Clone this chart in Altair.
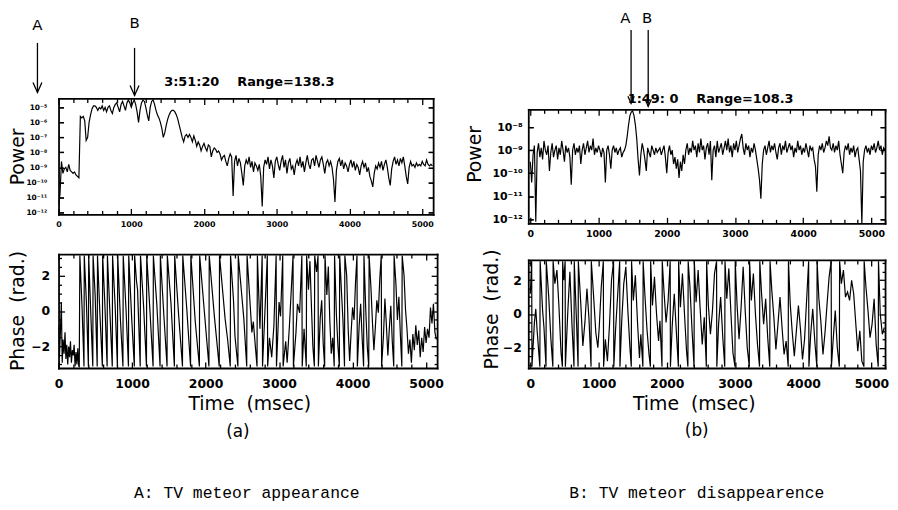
import altair as alt
import pandas as pd

# ---------------- values ----------------
STEP_MS = 20  # sampling step of the power traces (ms)

# (a) 3:51:20, log10(power), t = 0, 20, 40 ... ms
power_a_log10 = [
    -11.5, -10.8, -8.6, -9.4, -9.1, -9.0, -9.3, -8.8, -9.2, -9.3,
    -9.4, -9.3, -9.5, -9.6, -9.7, -5.6, -5.7, -5.6, -5.9, -7.2,
    -7.0, -6.0, -5.5, -5.1, -4.9, -4.9, -5.0, -5.2, -5.0, -5.1,
    -4.9, -5.2, -5.0, -5.3, -5.0, -4.9, -5.2, -5.4, -5.0, -4.8,
    -4.7, -5.0, -5.3, -4.8, -4.6, -4.9, -5.2, -4.7, -4.5, -4.7,
    -5.0, -4.7, -4.5, -4.8, -5.3, -6.0, -5.2, -4.7, -4.5, -4.6,
    -5.0, -5.5, -5.9, -5.0, -4.6, -4.5, -4.8, -5.2, -5.5, -5.7,
    -6.0, -6.4, -7.0, -6.7, -6.2, -5.8, -5.5, -5.3, -5.2, -5.2,
    -5.3, -5.5, -5.8, -6.2, -6.6, -7.0, -7.3, -6.9, -6.8, -7.0,
    -6.8, -7.0, -7.3, -6.9, -7.2, -7.6, -7.3, -7.5, -7.9, -7.6,
    -7.4, -7.7, -7.9, -7.5, -7.6, -8.3, -7.9, -7.7, -7.8, -8.0,
    -7.9, -8.1, -8.5, -8.3, -8.2, -8.6, -8.9, -8.4, -8.1, -8.3,
    -10.9, -8.6, -8.2, -8.9, -8.4, -8.7, -9.4, -10.2, -8.9, -8.5,
    -8.8, -8.3, -9.0, -8.6, -9.3, -8.7, -8.9, -9.2, -8.8, -9.6,
    -11.6, -9.0, -8.5, -8.8, -8.3, -9.1, -8.5, -8.9, -9.7, -8.6,
    -8.3, -8.8, -9.2, -8.6, -8.2, -9.0, -8.5, -9.4, -8.7, -8.4,
    -9.1, -8.9, -9.5, -8.8, -8.5, -8.9, -8.3, -9.0, -8.6, -9.3,
    -8.7, -8.2, -8.8, -9.1, -8.5, -8.4, -8.9, -8.2, -8.6, -9.0,
    -8.5, -8.3, -8.8, -9.4, -8.7, -8.5, -8.9, -8.6, -9.0, -9.8,
    -11.3, -9.2, -8.6, -8.4, -8.9, -8.5, -9.1, -8.7, -8.9, -9.3,
    -8.8, -8.5, -9.0, -8.6, -9.2, -8.8, -9.0, -9.5, -8.9, -8.6,
    -9.0, -8.7, -9.3, -9.0, -9.6, -9.9, -10.3, -9.4, -8.9, -9.1,
    -8.7, -9.0, -8.6, -9.2, -8.8, -8.5, -9.0, -9.7, -10.2, -9.1,
    -8.6, -8.3, -8.8, -8.5, -8.9, -8.4, -8.7, -8.3, -8.9, -9.6,
    -10.1, -9.0, -8.6, -8.9, -8.8, -9.0, -8.7, -8.9, -8.8, -8.9,
    -8.6, -8.8, -8.9, -8.5, -8.8, -8.9, -8.8, -8.9,
]

# (b) 1:49:0, log10(power), t = 0, 20, 40 ... ms
power_b_log10 = [
    -9.5, -10.4, -9.2, -8.8, -12.1, -9.1, -8.7, -9.3, -8.9, -9.4,
    -8.6, -9.0, -9.2, -8.8, -9.9, -9.1, -8.7, -9.3, -9.0, -8.8,
    -9.4, -8.9, -9.2, -8.6, -9.0, -9.5, -8.8, -9.1, -8.9, -9.3,
    -10.5, -9.0, -8.7, -9.2, -8.9, -9.1, -8.8, -9.6, -9.0, -8.7,
    -9.2, -8.9, -8.6, -9.1, -8.8, -9.0, -8.5, -9.2, -8.9, -9.1,
    -8.8, -9.0, -9.3, -8.9, -9.1, -10.4, -9.0, -8.8, -9.2, -9.8,
    -9.0, -8.8, -9.1, -8.9, -9.2, -9.0, -8.9, -9.3, -9.1, -9.0,
    -8.8, -8.4, -7.9, -7.5, -7.35, -7.3, -7.5, -7.9, -8.5, -9.4,
    -10.1, -9.2, -8.7, -9.0, -9.4, -9.9, -8.9, -9.1, -9.3, -8.8,
    -9.0, -9.2, -8.9, -9.1, -9.0, -8.9, -9.2, -9.0, -8.8, -9.3,
    -10.0, -9.1, -8.8, -9.2, -9.0, -9.6, -9.3, -9.8, -9.4, -10.2,
    -9.5, -9.9, -9.2, -9.6, -9.0, -8.7, -9.2, -8.9, -9.1, -8.6,
    -9.0, -8.8, -9.3, -8.7, -9.1, -8.5, -9.0, -8.8, -9.4, -8.9,
    -8.7, -9.2, -8.6, -10.3, -9.0, -8.8, -9.3, -8.6, -9.1, -8.9,
    -8.7, -9.2, -8.9, -8.6, -9.0, -8.5, -9.1, -8.8, -9.3, -8.7,
    -9.0, -8.6, -9.1, -8.8, -8.5, -8.3, -8.9, -9.2, -8.7, -9.0,
    -8.8, -9.3, -8.9, -9.1, -8.7, -9.0, -9.4, -9.8, -10.3, -11.1,
    -9.6, -9.0, -8.8, -9.2, -8.9, -8.6, -9.1, -8.8, -9.0, -8.7,
    -9.1, -9.4, -8.9, -8.7, -9.2, -8.8, -9.0, -8.6, -9.1, -8.9,
    -8.7, -9.0, -8.8, -9.3, -8.9, -9.1, -8.6, -9.0, -8.8, -9.2,
    -8.9, -9.1, -8.7, -9.0, -9.3, -8.8, -9.0, -8.9, -9.4, -9.7,
    -10.8, -9.2, -8.8, -9.0, -8.7, -9.1, -8.9, -8.6, -8.8, -8.4,
    -8.9, -9.0, -8.7, -9.1, -8.8, -9.0, -8.6, -9.2, -9.6, -10.0,
    -9.1, -8.8, -9.0, -8.7, -9.2, -8.9, -9.1, -8.8, -9.3, -9.0,
    -8.9, -9.4, -9.9, -12.2, -9.5, -9.0, -8.8, -9.1, -8.9, -9.2,
    -8.8, -9.0, -8.7, -9.1, -8.9, -8.6, -9.0, -8.8, -9.2, -8.9,
    -9.0,
]

# (a) phase (rad.) vertices: (time ms, phase)
phase_a_points = [
    (0, -0.8), (12, -2.6), (25, -1.2), (38, 0.5), (50, -2.9), (62, -1.6), (75, -2.4),
    (88, -1.2), (100, -2.7), (112, -1.9), (125, -3.0), (138, -2.0), (150, -2.6),
    (162, -1.7), (175, -2.9), (188, -2.2), (200, -2.5), (212, -1.9), (225, -3.1),
    (238, -2.3), (250, -3.0), (262, -2.1), (275, -3.1),
    (282, -3.12), (290, 3.12), (320, 0.2), (346, -3.12), (350, 3.12), (378, 0.6),
    (406, -3.12), (410, 3.12), (440, -0.3), (466, -3.12), (470, 3.12), (498, 0.9),
    (526, -3.12), (530, 3.12), (562, -0.1), (596, -3.12), (600, 3.12), (630, 0.4),
    (661, -3.12), (665, 3.12), (700, -0.2), (731, -3.12), (735, 3.12), (770, 0.3),
    (801, -3.12), (805, 3.12), (842, -0.5), (876, -3.12), (880, 3.12), (918, 0.1),
    (951, -3.12), (955, 3.12), (995, -0.4), (1031, -3.12), (1035, 3.12), (1060, 1.7),
    (1075, 1.2), (1111, -3.12), (1115, 3.12), (1158, 0.2), (1196, -3.12), (1200, 3.12),
    (1245, -0.1), (1286, -3.12), (1290, 3.12), (1338, 0.3), (1381, -3.12), (1385, 3.12),
    (1432, -0.2), (1476, -3.12), (1480, 3.12), (1530, 0.4), (1576, -3.12), (1580, 3.12),
    (1635, -0.3), (1686, -3.12), (1690, 3.12), (1745, 0.1), (1796, -3.12), (1800, 3.12),
    (1860, -0.6), (1916, -3.12), (1920, 3.12), (1985, -0.1), (2046, -3.12), (2050, 3.12),
    (2120, -0.3), (2186, -3.12), (2190, 3.12), (2265, -0.4), (2300, -1.6), (2336, -3.12),
    (2340, 3.12), (2380, 0.6), (2400, -1.4), (2440, -3.12), (2445, 3.12), (2520, -0.4),
    (2560, -3.12), (2565, 3.12), (2600, 0.8), (2630, -1.2), (2650, -0.6), (2700, -3.12),
    (2705, 3.12), (2740, -1.0), (2770, 3.12), (2775, -3.12), (2810, 0.2), (2840, 3.12),
    (2845, -3.12), (2870, -1.5), (2900, -2.6), (2930, -0.8), (2960, 3.12), (2965, -3.12),
    (3000, 0.5), (3020, -0.3), (3050, 3.12), (3055, -3.12), (3090, -1.7), (3110, -2.9),
    (3140, -0.9), (3170, 1.5), (3190, 3.12), (3195, -3.12), (3230, -1.2), (3250, 0.4),
    (3280, -0.1), (3310, 3.12), (3315, -3.12), (3340, -1.0), (3370, -3.12), (3375, 3.12),
    (3400, 1.2), (3420, 2.8), (3440, 0.3), (3460, -2.0), (3480, -3.12), (3485, 3.12),
    (3510, 2.2), (3530, 3.12), (3535, -3.12), (3560, -0.4), (3580, 0.6), (3600, -1.8),
    (3620, -3.12), (3625, 3.12), (3650, 0.9), (3670, 2.5), (3690, -0.5), (3710, -2.4),
    (3730, -1.5), (3750, -3.12), (3755, 3.12), (3780, -0.2), (3800, -1.9), (3820, -3.12),
    (3825, 3.12), (3850, 1.0), (3870, -0.6), (3890, -3.12), (3895, 3.12), (3920, 2.0),
    (3940, -1.0), (3960, -2.8), (3980, -1.2), (4000, 0.2), (4020, -0.5), (4040, 1.6),
    (4060, 3.12), (4065, -3.12), (4090, -0.8), (4110, 0.4), (4130, -1.5), (4150, -3.12),
    (4155, 3.12), (4180, 0.0), (4200, -2.0), (4220, -3.12), (4225, 3.12), (4250, 1.3),
    (4270, -0.6), (4290, -2.2), (4310, -0.9), (4330, 0.6), (4350, -0.1), (4370, 1.8),
    (4390, 3.12), (4395, -3.12), (4420, -1.4), (4440, 0.7), (4460, -0.8), (4480, -2.5),
    (4500, -1.0), (4520, 0.3), (4540, -1.7), (4560, -3.12), (4565, 3.12), (4590, 1.5),
    (4610, -0.5), (4630, 0.8), (4650, -1.3), (4670, -3.12), (4675, 3.12), (4700, 2.0),
    (4720, 0.1), (4740, -1.0), (4760, -2.4), (4780, -1.6), (4800, -2.9), (4820, -1.3),
    (4840, -2.2), (4860, -0.8), (4880, -1.9), (4900, -1.1), (4920, -2.6), (4940, -1.5),
    (4960, -2.3), (4980, -0.9), (5000, -1.8), (5020, -1.0), (5040, -1.5), (5060, 0.2),
    (5080, -0.7), (5100, 0.4), (5120, -1.2), (5140, -1.6),
]

# (b) phase (rad.) vertices: (time ms, phase)
phase_b_points = [
    (0, 1.2), (20, 3.12), (24, -3.12), (60, -0.5), (80, 0.3), (100, -1.0), (140, -3.12),
    (144, 3.12), (180, 0.2), (200, -0.8), (230, -3.12), (234, 3.12), (270, 1.0),
    (300, -1.4), (330, -3.12), (334, 3.12), (360, 1.8), (390, 2.6), (420, 0.4),
    (450, -2.3), (470, -3.12), (474, 3.12), (490, 2.0), (510, 3.12), (514, -3.12),
    (550, 0.2), (580, 2.5), (610, -0.6), (640, -3.12), (644, 3.12), (680, -0.8),
    (700, -3.12), (704, 3.12), (740, 0.6), (770, -1.9), (800, -0.5), (830, 1.5),
    (860, -0.3), (890, -3.12), (894, 3.12), (930, 0.9), (960, -1.1), (990, -2.0),
    (1010, -0.8), (1040, 1.6), (1070, 3.12), (1074, -3.12), (1100, -1.5), (1130, -2.8),
    (1160, -0.7), (1190, 2.0), (1220, 3.12), (1224, -3.12), (1250, -0.9), (1280, 1.1),
    (1310, 3.12), (1314, -3.12), (1340, -0.4), (1370, 1.8), (1400, 2.8), (1430, 0.2),
    (1460, -2.0), (1480, -3.12), (1484, 3.12), (1510, 0.8), (1540, 2.3), (1570, -0.4),
    (1600, -2.6), (1620, -1.2), (1650, -3.12), (1654, 3.12), (1680, 1.1), (1710, -0.9),
    (1740, -2.4), (1760, -3.12), (1764, 3.12), (1790, 0.5), (1820, 2.2), (1850, 0.0),
    (1880, -1.6), (1900, -0.4), (1930, -3.12), (1934, 3.12), (1960, 1.3), (1990, -0.5),
    (2020, 0.8), (2050, 3.12), (2054, -3.12), (2080, -0.7), (2110, 1.2), (2140, -1.0),
    (2170, -3.12), (2174, 3.12), (2200, 0.4), (2230, 2.4), (2260, 0.0), (2290, -2.2),
    (2310, -3.12), (2314, 3.12), (2340, 1.6), (2370, -0.9), (2400, -3.12), (2404, 3.12),
    (2430, 0.7), (2460, 2.6), (2490, 0.3), (2520, -1.8), (2550, -0.2), (2580, -3.12),
    (2584, 3.12), (2610, 0.5), (2640, -1.2), (2670, 0.2), (2700, 2.4), (2730, 3.12),
    (2734, -3.12), (2760, -0.6), (2790, 1.0), (2820, -1.3), (2850, -3.12), (2854, 3.12),
    (2880, 0.9), (2910, 2.7), (2940, 0.1), (2970, -2.3), (3000, -3.12), (3004, 3.12),
    (3030, 0.6), (3060, -1.5), (3090, 0.4), (3120, 2.8), (3150, 0.2), (3180, -2.0),
    (3210, -3.12), (3214, 3.12), (3240, 0.8), (3270, 2.4), (3300, 0.0), (3330, -1.8),
    (3360, -3.12), (3364, 3.12), (3390, 1.2), (3420, -0.6), (3450, 0.9), (3480, -1.4),
    (3510, -3.12), (3514, 3.12), (3540, 1.4), (3570, -0.2), (3600, -2.1), (3630, -0.6),
    (3660, 1.0), (3690, -0.8), (3720, -2.4), (3750, -1.6), (3780, -3.12), (3784, 3.12),
    (3810, 0.6), (3840, -1.1), (3870, -2.5), (3900, -1.0), (3930, 0.5), (3960, -0.9),
    (3990, -2.7), (4020, -1.5), (4050, 0.8), (4080, 3.12), (4084, -3.12), (4110, -1.2),
    (4140, 0.3), (4170, -1.6), (4200, -3.12), (4204, 3.12), (4230, 0.9), (4260, -0.5),
    (4290, -2.4), (4320, -1.1), (4350, 0.6), (4380, 2.2), (4410, 3.12), (4414, -3.12),
    (4440, -1.5), (4470, 0.2), (4500, -2.0), (4530, -3.12), (4534, 3.12), (4560, 1.8),
    (4590, 2.6), (4620, 1.0), (4650, 1.3), (4680, 0.8), (4710, 2.0), (4740, 1.2),
    (4770, -0.5), (4800, -2.2), (4830, -1.0), (4860, -2.8), (4890, -3.12), (4894, 3.12),
    (4920, 1.6), (4950, 0.2), (4980, -1.4), (5010, -0.6), (5040, 0.9), (5070, -1.8),
    (5100, -3.12), (5104, 3.12), (5130, 0.0), (5160, -1.2), (5190, -0.8),
]

# axis tick values
time_labels = [0, 1000, 2000, 3000, 4000, 5000]
time_minor_a = [t for t in range(0, 5151, 200) if t % 1000]
time_minor_b = [t for t in range(0, 5201, 200) if t % 1000]
power_a_decades = [-12, -11, -10, -9, -8, -7, -6, -5]
power_b_decades = [-12, -11, -10, -9, -8]
phase_labels = [-2, 0, 2]
phase_minor = [-3, -2.5, -1.5, -1, -0.5, 0.5, 1, 1.5, 2.5, 3]

# annotation texts and their anchors in data units
title_a = "3:51:20\u00a0\u00a0\u00a0\u00a0Range=138.3"
title_b = "1:49:\u00a00\u00a0\u00a0\u00a0\u00a0Range=108.3"
arrows_a = {"t": [-290, 1045], "top": [-0.70, -1.03], "tip": [-4.0, -4.2],
            "label": ["A", "B"], "label_y": [0.49, 0.65]}
arrows_b = {"t": [1477, 1728], "top": [-3.79, -3.79], "tip": [-6.97, -7.10],
            "label": ["A", "B"], "label_t": [1394, 1713], "label_y": [-2.98, -2.98]}
caption_a = "A: TV meteor appearance"
caption_b = "B: TV meteor disappearence"

# ---------------- frames ----------------
XDOM_A, XDOM_B = [0, 5150], [-30, 5200]
YDOM_PA, YDOM_PB = [-12.13, -4.4], [-12.17, -7.23]
YDOM_PH = [-3.2, 3.2]
BLACK = "black"
TICK_FONT = "DejaVu Sans"
TITLE_FONT = "DejaVu Sans"
FRAME_W = 1.8

sup = str.maketrans("0123456789-", "⁰¹²³⁴⁵⁶⁷⁸⁹⁻")


def pow_expr(vals):
    return "".join(f"datum.value == {v} ? '10{str(v).translate(sup)}' : " for v in vals) + "''"


def tick_axis(orient, off, vals, size, domain=False):
    return alt.Axis(orient=orient, offset=off, values=vals, labels=False, domain=domain,
                    domainColor=BLACK, domainWidth=FRAME_W, domainCap="square",
                    grid=False, title=None, ticks=True, tickColor=BLACK, tickWidth=1.3,
                    tickSize=size)


def panel(df, yf, xdom, ydom, w, hc, top, xlab, ylab, xmaj, xmin, ymaj, ymin,
          xsz, ysz, extra):
    """hc: cell height; the frame spans from `top` to `hc` inside the cell.
    Inward ticks: axes of the opposite orientation shifted across the frame."""
    xs = alt.Scale(domain=xdom, nice=False, zero=False)
    ys = alt.Scale(domain=ydom, nice=False, zero=False, range=[hc, top])
    line = alt.Chart(df).mark_line(color=BLACK, strokeWidth=1.2, clip=True).encode(
        x=alt.X("t:Q", scale=xs, axis=xlab),
        y=alt.Y(f"{yf}:Q", scale=ys, axis=ylab),
        order="i:Q")
    layers = [line]
    for k, (xv, yv) in enumerate([(xmaj, ymaj), (xmin, ymin)]):
        xsize, ysize = xsz[k], ysz[k]
        inner_bl = alt.Chart(df).mark_line(opacity=0).encode(
            x=alt.X("t:Q", scale=xs, axis=tick_axis("top", -hc, xv, xsize)),
            y=alt.Y(f"{yf}:Q", scale=ys, axis=tick_axis("right", -w, yv, ysize)))
        inner_tr = alt.Chart(df).mark_line(opacity=0).encode(
            x=alt.X("t:Q", scale=xs,
                    axis=tick_axis("bottom", -(hc - top), xv, xsize, domain=(k == 0))),
            y=alt.Y(f"{yf}:Q", scale=ys,
                    axis=tick_axis("left", -w, yv, ysize, domain=(k == 0))))
        layers += [inner_bl, inner_tr]
    layers += [e(xs, ys) for e in extra]
    return alt.layer(*layers).resolve_axis(x="independent", y="independent").properties(
        width=w, height=hc)


def label_axis(orient, vals, size, pad, expr=None, title=None, tx=None, ty=None):
    kw = dict(orient=orient, values=vals, labelFont=TICK_FONT, labelFontWeight="bold",
              labelFontSize=size, labelPadding=pad, labelColor=BLACK, ticks=False,
              tickSize=0, domain=True, domainColor=BLACK, domainWidth=FRAME_W,
              domainCap="square", grid=False, labelOverlap=False, labelFlush=False)
    if expr:
        kw["labelExpr"] = expr
    else:
        kw["format"] = "d"
    if title:
        kw.update(title=title, titleFont=TITLE_FONT, titleFontSize=19,
                  titleFontWeight="normal", titleColor=BLACK, titleX=tx, titleY=ty,
                  titleBaseline="middle", titleAlign="center")
        if orient == "left":
            kw["titleAngle"] = 270
    else:
        kw["title"] = None
    return alt.Axis(**kw)


def text_layer(t, y, text, size, font=TITLE_FONT, weight="normal", baseline="middle"):
    d = pd.DataFrame({"t": t, "y": y, "s": text})

    def make(xs, ys):
        return alt.Chart(d).mark_text(font=font, fontSize=size, fontWeight=weight,
                                      baseline=baseline, align="center", color=BLACK).encode(
            x=alt.X("t:Q", scale=xs, axis=None), y=alt.Y("y:Q", scale=ys, axis=None),
            text="s:N")
    return make


def arrow_layers(arr, head_size):
    d = pd.DataFrame({"t": arr["t"], "top": arr["top"], "tip": arr["tip"]})

    def shaft(xs, ys):
        return alt.Chart(d).mark_rule(color=BLACK, strokeWidth=1.3).encode(
            x=alt.X("t:Q", scale=xs, axis=None), y=alt.Y("top:Q", scale=ys, axis=None),
            y2="tip:Q")

    def head(xs, ys):
        return alt.Chart(d).mark_point(shape="M -0.45 -1 L 0 0 L 0.45 -1", filled=False,
                                       size=head_size, strokeWidth=1.3, color=BLACK,
                                       opacity=1).encode(
            x=alt.X("t:Q", scale=xs, axis=None), y=alt.Y("tip:Q", scale=ys, axis=None))
    return [shaft, head]


# data frames
pa = pd.DataFrame({"t": [i * STEP_MS for i in range(len(power_a_log10))], "p": power_a_log10})
pa["i"] = range(len(pa))
pb = pd.DataFrame({"t": [i * STEP_MS for i in range(len(power_b_log10))], "p": power_b_log10})
pb["i"] = range(len(pb))
ha = pd.DataFrame(phase_a_points, columns=["t", "ph"])
ha["i"] = range(len(ha))
hb = pd.DataFrame(phase_b_points, columns=["t", "ph"])
hb["i"] = range(len(hb))

a_power = panel(
    pa, "p", XDOM_A, YDOM_PA, 378, 117, 0,
    label_axis("bottom", time_labels, 8, 6),
    label_axis("left", power_a_decades, 7.5, 12, expr=pow_expr(power_a_decades),
               title="Power", tx=-41.5, ty=58.5),
    time_labels, time_minor_a, power_a_decades, power_a_decades, (6, 4), (5, 5),
    arrow_layers(arrows_a, 400)
    + [text_layer(arrows_a["t"], arrows_a["label_y"], arrows_a["label"], 15),
       text_layer([2623], [-3.34], [title_a], 13, weight="bold")])

a_phase = panel(
    ha, "ph", XDOM_A, YDOM_PH, 382, 115, 0,
    label_axis("bottom", time_labels, 12.5, 10, title="Time\u00a0\u00a0(msec)", tx=192.5, ty=36),
    label_axis("left", phase_labels, 12.5, 9, title="Phase\u00a0\u00a0(rad.)", tx=-41.5, ty=57),
    time_labels, time_minor_a, phase_labels, phase_minor, (6, 4), (6, 3),
    [text_layer([2440], [-6.82], ["(a)"], 17),
     text_layer([2561], [-10.21], [caption_a], 16.5, font="Liberation Mono")])

# right column: the frames sit lower than the left ones (offset inside the cell)
b_power = panel(
    pb, "p", XDOM_B, YDOM_PB, 360, 126, 11,
    label_axis("bottom", time_labels, 9.5, 5),
    label_axis("left", power_b_decades, 11, 6, expr=pow_expr(power_b_decades),
               title="Power", tx=-54.5, ty=56),
    time_labels, time_minor_b, power_b_decades, power_b_decades, (6, 4), (5, 5),
    arrow_layers(arrows_b, 200)
    + [text_layer(arrows_b["label_t"], arrows_b["label_y"], arrows_b["label"], 15,
                  baseline="top"),
       text_layer([2643], [-6.80], [title_b], 13, weight="bold")])

b_phase = panel(
    hb, "ph", XDOM_B, YDOM_PH, 360, 115, 6,
    label_axis("bottom", time_labels, 12.5, 10, title="Time\u00a0\u00a0(msec)", tx=167, ty=36),
    label_axis("left", phase_labels, 12.5, 7, title="Phase\u00a0\u00a0(rad.)", tx=-37, ty=55.5),
    time_labels, time_minor_b, phase_labels, phase_minor, (6, 4), (6, 3),
    [text_layer([2440], [-6.96], ["(b)"], 17),
     text_layer([2440], [-10.60], [caption_b], 16.5, font="Liberation Mono")])

chart = alt.concat(a_power, b_power, a_phase, b_phase, columns=2,
                   spacing={"row": 31, "column": 92}, bounds="flush").properties(
    padding=0, background="white").configure_view(stroke="transparent")

chart.save("out.html", embed_options={"renderer": "svg", "actions": False})
